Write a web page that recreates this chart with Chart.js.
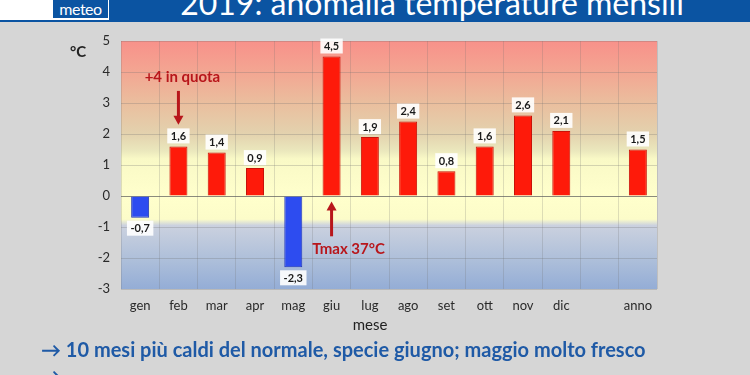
<!DOCTYPE html>
<html>
<head>
<meta charset="utf-8">
<script src="https://cdn.jsdelivr.net/npm/chart.js@4.4.1/dist/chart.umd.min.js"></script>
<style>
  html, body { margin: 0; padding: 0; }
  body { width: 750px; height: 375px; background: #d6d6d6; position: relative; overflow: hidden; font-family: Lato, "Open Sans", sans-serif; }
  #wrap { position: absolute; left: 0; top: 0; width: 750px; height: 375px; }
  .header { position: absolute; left: 0; top: 0; width: 750px; height: 22px; background: #0b54a2; }
  .logo { position: absolute; left: 0; top: 0; width: 109px; height: 20px; background: #fff; border-bottom: 1px solid #0b54a2; }
  .logo span { position: absolute; left: 53px; top: 0; width: 55px; height: 18px; background: #0b54a2; color: #fff; font-size: 16px; line-height: 17px; text-align: center; letter-spacing: -0.5px; }
  .title { position: absolute; left: 0; top: -15px; width: 864px; text-align: center; color: #fff; font-size: 32px; line-height: 36px; white-space: nowrap; }
  .unit { position: absolute; left: 70px; top: 42px; font-size: 15px; font-weight: bold; color: #222; }
  .xtitle { position: absolute; left: 340px; top: 315px; width: 60px; text-align: center; font-size: 15px; color: #222; }
  .note { position: absolute; left: 41px; top: 337px; font-size: 20px; font-weight: bold; color: #1f5aa6; white-space: nowrap; }
  .note2 { position: absolute; left: 41px; top: 363px; font-size: 20px; font-weight: bold; color: #1f5aa6; white-space: nowrap; }
</style>
</head>
<body>
<div id="wrap"><canvas id="chart" width="750" height="375"></canvas></div>
<div class="header"></div>
<div class="logo"><span>meteo</span></div>
<div class="title">2019: anomalia temperature mensili</div>
<div class="unit">°C</div>
<div class="xtitle">mese</div>
<div class="note">→ 10 mesi più caldi del normale, specie giugno; maggio molto fresco</div>
<div class="note2">→</div>
<script>
const mesi = ['gen', 'feb', 'mar', 'apr', 'mag', 'giu', 'lug', 'ago', 'set', 'ott', 'nov', 'dic', '', 'anno'];
const anomalie = [-0.7, 1.6, 1.4, 0.9, -2.3, 4.5, 1.9, 2.4, 0.8, 1.6, 2.6, 2.1, null, 1.5];
const yTicks = [-3, -2, -1, 0, 1, 2, 3, 4, 5];
// note annotate: [category index, text value, arrow tail, arrow tip]
const noteFeb = { idx: 1, label: '+4 in quota', textY: 3.84, from: 3.39, to: 2.3 };
const noteGiu = { idx: 5, label: 'Tmax 37°C', textY: -1.72, from: -1.3, to: -0.18 };

function fmt(v) {
  return v.toFixed(1).replace('.', ',');
}

const bgPlugin = {
  id: 'bg',
  beforeDraw(chart) {
    const { ctx, chartArea: a, scales: { y } } = chart;
    const h = a.bottom - a.top;
    const g = ctx.createLinearGradient(0, a.top, 0, a.bottom);
    const stops = [[5, '#f8918a'], [4, '#f3a692'], [3, '#eabe9e'], [2, '#e3d2ae'], [1.45, '#ebe8bd'], [1.2, '#f9f9c6'], [0, '#ffffcc'], [-0.75, '#fcfcc9'], [-0.95, '#cbd1df'], [-2, '#afc0da'], [-3, '#94add6']];
    stops.forEach(s => g.addColorStop((y.getPixelForValue(s[0]) - a.top) / h, s[1]));
    ctx.save();
    ctx.fillStyle = g;
    ctx.fillRect(a.left, a.top, a.right - a.left, h);
    ctx.restore();
  }
};

const labelPlugin = {
  id: 'labels',
  afterDatasetsDraw(chart) {
    const { ctx, scales: { x, y } } = chart;
    const meta = chart.getDatasetMeta(0);
    ctx.save();
    ctx.font = 'bold 11px Lato, sans-serif';
    ctx.textAlign = 'center';
    ctx.textBaseline = 'middle';
    meta.data.forEach((bar, i) => {
      const v = anomalie[i];
      if (v === null) return;
      const t = fmt(v);
      const w = ctx.measureText(t).width + 7;
      const bh = 15;
      const cy = v >= 0 ? bar.y - 3 - bh / 2 : bar.y + 3 + bh / 2;
      ctx.fillStyle = 'rgba(255,255,255,0.9)';
      ctx.fillRect(bar.x - w / 2, cy - bh / 2, w, bh);
      ctx.fillStyle = '#1a1a1a';
      ctx.fillText(t, bar.x, cy + 0.5);
    });

    // annotations with arrows
    [noteFeb, noteGiu].forEach(n => {
      const px = x.getPixelForValue(n.idx);
      const y0 = y.getPixelForValue(n.from);
      const y1 = y.getPixelForValue(n.to);
      const dir = y1 > y0 ? 1 : -1;
      ctx.strokeStyle = '#b8161b';
      ctx.fillStyle = '#b8161b';
      ctx.lineWidth = 3;
      ctx.beginPath();
      ctx.moveTo(px, y0);
      ctx.lineTo(px, y1 - dir * 8);
      ctx.stroke();
      ctx.beginPath();
      ctx.moveTo(px - 5, y1 - dir * 9);
      ctx.lineTo(px + 5, y1 - dir * 9);
      ctx.lineTo(px, y1);
      ctx.closePath();
      ctx.fill();
      ctx.font = 'bold 15px Lato, sans-serif';
      ctx.fillText(n.label, px + (n.idx === 1 ? 4 : 17), y.getPixelForValue(n.textY));
    });
    ctx.restore();
  }
};

new Chart(document.getElementById('chart'), {
  type: 'bar',
  data: {
    labels: mesi,
    datasets: [{
      data: anomalie,
      backgroundColor: anomalie.map(v => v < 0 ? '#2d4cf0' : '#fe1a0a'),
      borderColor: anomalie.map(v => v < 0 ? '#2238b8' : '#c81208'),
      borderWidth: 1,
      barPercentage: 0.47,
      categoryPercentage: 1
    }]
  },
  options: {
    responsive: false,
    animation: false,
    layout: { padding: { top: 41, right: 93, left: 0, bottom: 0 } },
    plugins: { legend: { display: false }, tooltip: { enabled: false } },
    scales: {
      x: {
        grid: { color: 'rgba(110,110,110,0.22)', drawTicks: false, offset: true },
        border: { display: false },
        ticks: { color: '#2a2a2a', font: { family: 'Lato', size: 13 }, padding: 9, maxRotation: 0, autoSkip: false },
        afterFit(scale) { scale.height = 86; }
      },
      y: {
        min: -3,
        max: 5,
        afterBuildTicks(scale) { scale.ticks = yTicks.map(v => ({ value: v })); },
        grid: {
          color: ctx => ctx.tick && ctx.tick.value === 0 ? 'rgba(90,90,90,0.7)' : 'rgba(110,110,110,0.28)',
          drawTicks: false
        },
        border: { display: false },
        ticks: { color: '#2a2a2a', font: { family: 'Lato', size: 13 }, padding: 11 },
        afterFit(scale) { scale.width = 121; }
      }
    }
  },
  plugins: [bgPlugin, labelPlugin]
});
</script>
</body>
</html>
